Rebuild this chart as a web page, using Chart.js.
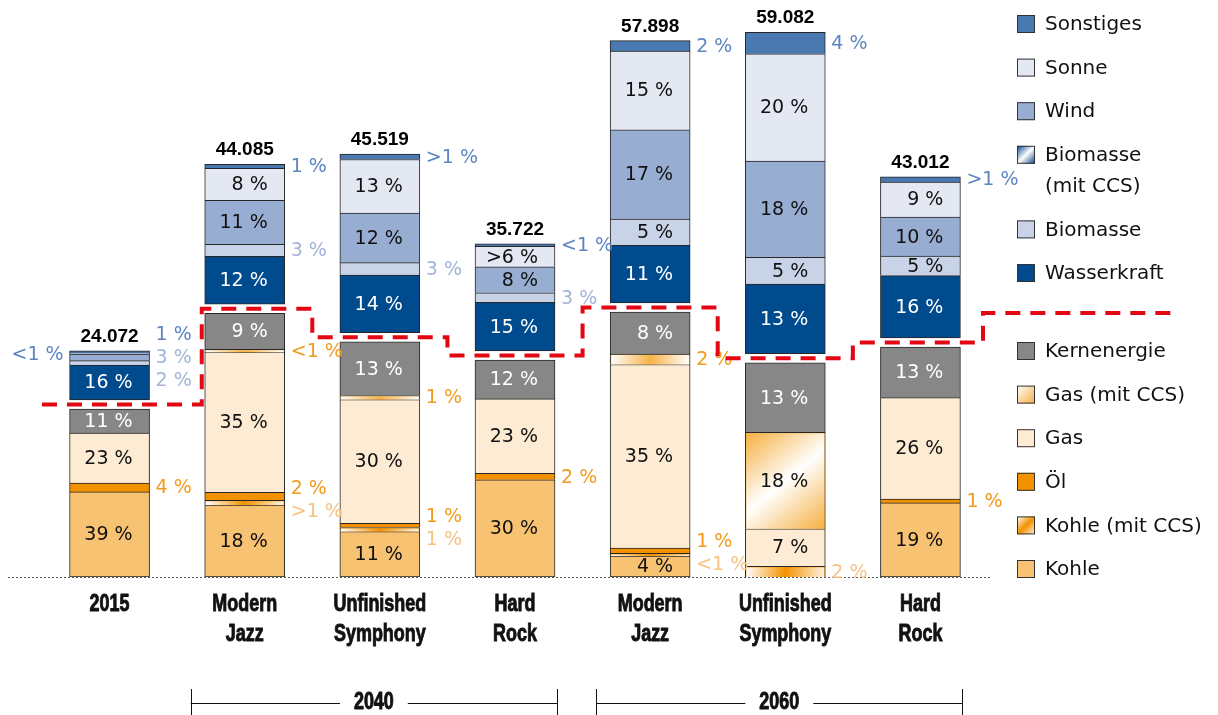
<!DOCTYPE html>
<html>
<head>
<meta charset="utf-8">
<script src="https://cdn.jsdelivr.net/npm/chart.js@4.4.0/dist/chart.umd.min.js"></script>
<style>
  html, body { margin: 0; padding: 0; background: #fff; }
</style>
</head>
<body>
<canvas id="grafMix" width="1218" height="715"></canvas>
<script>
// SZENARIEN / SUMMEN
const szenarien = ['2015', ['Modern', 'Jazz'], ['Unfinished', 'Symphony'], ['Hard', 'Rock'],
                   ['Modern', 'Jazz'], ['Unfinished', 'Symphony'], ['Hard', 'Rock']];
const gesamt = [24072, 44085, 45519, 35722, 57898, 59082, 43012];
const gruppen = [{ label: '2040', von: 1, bis: 3 }, { label: '2060', von: 4, bis: 6 }];

// ANTEILE in %
const kohle       = [39, 18,  11, 30,  4,    0, 19];
const kohleCCS    = [ 0,  1.2, 1,  0,  0.5,  2,  0];
const oel         = [ 4,  2,   1,  2,  1,    0,  1];
const gas         = [23, 35,  30, 23, 35,    7, 26];
const gasCCS      = [ 0,  0.8, 1,  0,  2,   18,  0];
const kern        = [11,  9,  13, 12,  8,   13, 13];
const wasser      = [16, 12,  14, 15, 11,   13, 16];
const biomasse    = [ 2,  3,   3,  3,  5,    5,  5];
const biomasseCCS = [ 0,  0,   0,  0,  0,    0,  0];
const wind        = [ 3, 11,  12,  8, 17,   18, 10];
const sonne       = [ 0.5, 8, 13,  6.3, 15, 20,  9];
const sonstiges   = [ 1,  1,   1.3, 0.8, 2,  4,  1.3];

const LUECKE = 1000; // Abstand fossil / erneuerbar

const serien = [
  { name: 'Kohle', werte: kohle, farbe: '#f8c273', fossil: true, rand: false },
  { name: 'Kohle (mit CCS)', werte: kohleCCS, farbe: '#f39200', verlauf: 'kohleCCS', label: '#f6c383', fossil: true },
  { name: 'Öl', werte: oel, farbe: '#f39200', label: '#f29a1c', fossil: true },
  { name: 'Gas', werte: gas, farbe: '#fdebd3', fossil: true },
  { name: 'Gas (mit CCS)', werte: gasCCS, farbe: '#f6b757', verlauf: 'gasCCS', label: '#f29a1c', fossil: true },
  { name: 'Kernenergie', werte: kern, farbe: '#878787', text: '#fff', fossil: true },
  { name: 'Wasserkraft', werte: wasser, farbe: '#004b8d', text: '#fff', rand: false },
  { name: 'Biomasse', werte: biomasse, farbe: '#c9d3e8', label: '#a3b4d9' },
  { name: ['Biomasse', '(mit CCS)'], werte: biomasseCCS, farbe: '#1f4f8f', verlauf: 'bioCCS' },
  { name: 'Wind', werte: wind, farbe: '#98add2', label: '#a3b4d9' },
  { name: 'Sonne', werte: sonne, farbe: '#e3e8f3', label: '#5d86c0', seite: 'links' },
  { name: 'Sonstiges', werte: sonstiges, farbe: '#4a78b0', label: '#5d86c0', aussen: true }
];

const datasets = [];
serien.forEach(s => {
  datasets.push({
    label: Array.isArray(s.name) ? s.name.join(' ') : s.name,
    data: s.werte.map((p, i) => p * gesamt[i] / 100),
    backgroundColor: s.farbe,
    borderColor: '#262626',
    borderWidth: 1,
    borderSkipped: s.rand === false ? false : 'start',
    barThickness: 80,
    serie: s
  });
  if (s.name === 'Kernenergie') {
    datasets.push({
      label: 'luecke',
      data: gesamt.map(() => LUECKE),
      backgroundColor: 'rgba(0,0,0,0)',
      borderWidth: 0,
      barThickness: 80
    });
  }
});

const TEXT = '"DejaVu Sans", sans-serif';
const FETT = 'bold 23px "Liberation Sans", sans-serif';

function prozent(p) {
  if (p < 1) return '<1 %';
  if (Number.isInteger(p)) return p + ' %';
  return '>' + Math.floor(p) + ' %';
}

function rechteck(el) {
  const p = el.getProps(['x', 'y', 'base', 'width'], true);
  return { cx: p.x, x0: p.x - p.width / 2, w: p.width, y0: Math.min(p.y, p.base), h: Math.abs(p.base - p.y) };
}

// schmale fette Schrift (Kategorien)
function schmal(ctx, txt, x, y) {
  ctx.save();
  ctx.translate(x, y);
  ctx.scale(0.78, 1);
  ctx.lineWidth = 0.9;
  ctx.strokeStyle = ctx.fillStyle;
  ctx.strokeText(txt, 0, 0);
  ctx.fillText(txt, 0, 0);
  ctx.restore();
  return ctx.measureText(txt).width * 0.78;
}

function verlauf(ctx, art, x, y, w, h, legende) {
  const g = ctx.createLinearGradient(x, y, x + w, y + h);
  if (art === 'kohleCCS') {
    g.addColorStop(0, '#ffffff'); g.addColorStop(0.5, '#f39200'); g.addColorStop(1, '#fff3e0');
  } else if (art === 'gasCCS') {
    if (legende) {
      g.addColorStop(0, '#ffffff'); g.addColorStop(1, '#f4ae45');
    } else if (h > w * 0.8) {
      g.addColorStop(0, '#f5b041'); g.addColorStop(0.5, '#ffffff'); g.addColorStop(1, '#f5b041');
    } else {
      g.addColorStop(0, '#ffffff'); g.addColorStop(0.5, '#f6b349'); g.addColorStop(1, '#ffffff');
    }
  } else {
    g.addColorStop(0, '#003f85'); g.addColorStop(0.5, '#ffffff'); g.addColorStop(1, '#003f85');
  }
  return g;
}

function verteilen(items, abstand) {
  items.sort((a, b) => a.y - b.y);
  const gr = items.map(it => ({ items: [it], mitte: it.y }));
  let weiter = true;
  while (weiter) {
    weiter = false;
    for (let k = 0; k < gr.length - 1; k++) {
      const a = gr[k], b = gr[k + 1];
      const aEnde = a.mitte + (a.items.length - 1) * abstand / 2;
      const bAnf = b.mitte - (b.items.length - 1) * abstand / 2;
      if (bAnf - aEnde < abstand) {
        const alle = a.items.concat(b.items);
        gr.splice(k, 2, { items: alle, mitte: alle.reduce((s, it) => s + it.y, 0) / alle.length });
        weiter = true;
        break;
      }
    }
  }
  gr.forEach(g => g.items.forEach((it, j) => { it.yy = g.mitte + (j - (g.items.length - 1) / 2) * abstand; }));
}

const deko = {
  id: 'deko',
  beforeDatasetsDraw(chart) {
    const { ctx, chartArea } = chart;
    ctx.save();
    ctx.strokeStyle = '#555';
    ctx.lineWidth = 1;
    ctx.setLineDash([2, 2]);
    ctx.beginPath();
    ctx.moveTo(8, chartArea.bottom + 0.5);
    ctx.lineTo(990, chartArea.bottom + 0.5);
    ctx.stroke();
    ctx.restore();
  },
  afterDatasetsDraw(chart) {
    const { ctx, chartArea } = chart;
    const xs = chart.scales.x, ys = chart.scales.y;
    ctx.save();

    // Verlaeufe (CCS)
    chart.data.datasets.forEach((ds, di) => {
      if (!ds.serie || !ds.serie.verlauf) return;
      chart.getDatasetMeta(di).data.forEach(el => {
        const r = rechteck(el);
        if (r.h < 0.5) return;
        ctx.fillStyle = verlauf(ctx, ds.serie.verlauf, r.x0 + 1, r.y0 + 1, r.w - 2, r.h - 1);
        ctx.fillRect(r.x0 + 1, r.y0 + 1, r.w - 2, r.h - 1);
      });
    });

    // Prozentwerte
    ctx.font = '19px ' + TEXT;
    ctx.textBaseline = 'middle';
    const aussen = gesamt.map(() => []);
    const oben = gesamt.map(() => chartArea.bottom);
    chart.data.datasets.forEach((ds, di) => {
      if (!ds.serie) return;
      const s = ds.serie;
      chart.getDatasetMeta(di).data.forEach((el, i) => {
        const p = s.werte[i];
        if (!p) return;
        const r = rechteck(el);
        oben[i] = Math.min(oben[i], r.y0);
        const txt = prozent(p);
        const ym = r.y0 + r.h / 2;
        if (r.h >= 15 && !s.aussen) {
          ctx.fillStyle = s.text || '#111';
          ctx.textAlign = 'right';
          ctx.fillText(txt, r.cx + 23, ym + 1);
        } else {
          aussen[i].push({ y: ym, txt, farbe: s.label || '#888', seite: s.seite || 'rechts', x0: r.x0, x1: r.x0 + r.w });
        }
      });
    });
    aussen.forEach(liste => {
      ['rechts', 'links'].forEach(seite => {
        const items = liste.filter(it => it.seite === seite);
        verteilen(items, 23);
        items.forEach(it => {
          ctx.fillStyle = it.farbe;
          ctx.textAlign = seite === 'rechts' ? 'left' : 'right';
          const tx = seite === 'rechts' ? it.x1 + 6 : it.x0 - 6;
          ctx.fillText(it.txt, tx, it.yy + 1);
          it.ende = tx + ctx.measureText(it.txt).width;
        });
      });
    });

    // Summen
    ctx.font = 'bold 19px "Liberation Sans", sans-serif';
    ctx.fillStyle = '#000';
    ctx.textAlign = 'center';
    ctx.textBaseline = 'alphabetic';
    gesamt.forEach((g, i) => {
      ctx.fillText(g.toLocaleString('de-DE'), xs.getPixelForValue(i), oben[i] - 9);
    });

    // rote Trennlinie
    const fossilIdx = chart.data.datasets.map((ds, di) => (ds.serie && ds.serie.fossil) ? di : -1).filter(d => d >= 0);
    const yTrenn = gesamt.map((g, i) => {
      const summe = fossilIdx.reduce((s, di) => s + chart.data.datasets[di].data[i], 0);
      return ys.getPixelForValue(summe + LUECKE / 2);
    });
    const xm = gesamt.map((g, i) => xs.getPixelForValue(i));
    const legY = 313;
    ctx.strokeStyle = '#e30613';
    ctx.lineWidth = 4;
    ctx.setLineDash([15, 10]);
    ctx.beginPath();
    ctx.moveTo(chartArea.left, yTrenn[0]);
    for (let i = 0; i < xm.length; i++) {
      const yNeu = i < xm.length - 1 ? yTrenn[i + 1] : legY;
      let xg = i < xm.length - 1 ? (xm[i] + xm[i + 1]) / 2 : xm[i] + (xm[i] - xm[i - 1]) / 2 - 5;
      const lo = Math.min(yTrenn[i], yNeu) + 8, hi = Math.max(yTrenn[i], yNeu) - 8;
      aussen[i].filter(it => it.seite === 'rechts' && it.yy > lo && it.yy < hi)
        .forEach(it => { xg = Math.max(xg, it.ende + 10); });
      ctx.lineTo(xg, yTrenn[i]);
      ctx.lineTo(xg, yNeu);
    }
    ctx.lineTo(1178, legY);
    ctx.stroke();
    ctx.setLineDash([]);

    // Legende
    ctx.font = '20px ' + TEXT;
    ctx.textAlign = 'left';
    ctx.textBaseline = 'middle';
    let ly = 24;
    serien.slice().reverse().forEach(s => {
      const zeilen = Array.isArray(s.name) ? s.name : [s.name];
      const bx = 1017, by = ly - 9;
      ctx.fillStyle = s.verlauf ? verlauf(ctx, s.verlauf, bx, by, 18, 18, true) : s.farbe;
      ctx.fillRect(bx, by, 18, 18);
      ctx.strokeStyle = '#333';
      ctx.lineWidth = 1;
      ctx.strokeRect(bx + 0.5, by + 0.5, 17, 17);
      ctx.fillStyle = '#111';
      zeilen.forEach((z, k) => ctx.fillText(z, 1045, ly + 1 + k * 31));
      ly += 43.6 + (zeilen.length - 1) * 31;
      if (s.name === 'Wasserkraft') ly = legY + 38;
    });

    // Kategorien
    ctx.font = FETT;
    ctx.fillStyle = '#111';
    ctx.textAlign = 'center';
    chart.data.labels.forEach((lab, i) => {
      const zeilen = Array.isArray(lab) ? lab : [lab];
      zeilen.forEach((z, k) => schmal(ctx, z, xs.getPixelForValue(i), chartArea.bottom + 28 + k * 30));
    });

    // Gruppen 2040 / 2060
    gruppen.forEach(g => {
      const l = xs.getPixelForValue(g.von) - 54;
      const r = xs.getPixelForValue(g.bis) + 42;
      const m = (l + r) / 2, yy = 703;
      const tw = schmal(ctx, g.label, m, yy);
      ctx.strokeStyle = '#111';
      ctx.lineWidth = 1;
      ctx.beginPath();
      ctx.moveTo(Math.round(l) + 0.5, 689); ctx.lineTo(Math.round(l) + 0.5, 715);
      ctx.moveTo(Math.round(r) + 0.5, 689); ctx.lineTo(Math.round(r) + 0.5, 715);
      ctx.moveTo(l, yy + 0.5); ctx.lineTo(m - tw / 2 - 14, yy + 0.5);
      ctx.moveTo(m + tw / 2 + 14, yy + 0.5); ctx.lineTo(r, yy + 0.5);
      ctx.stroke();
    });
    ctx.restore();
  }
};

const grafMix = new Chart(document.getElementById('grafMix').getContext('2d'), {
  type: 'bar',
  data: { labels: szenarien, datasets: datasets },
  options: {
    responsive: false,
    animation: false,
    devicePixelRatio: 1,
    events: [],
    layout: { padding: { left: 42, right: 230, top: 6, bottom: 0 } },
    plugins: { legend: { display: false }, tooltip: { enabled: false } },
    scales: {
      x: {
        stacked: true,
        grid: { display: false, drawTicks: false },
        border: { display: false },
        ticks: { display: false },
        afterFit(scale) { scale.height = 138; }
      },
      y: { stacked: true, display: false, min: 0, max: 63000 }
    }
  },
  plugins: [deko]
});
</script>
</body>
</html>
